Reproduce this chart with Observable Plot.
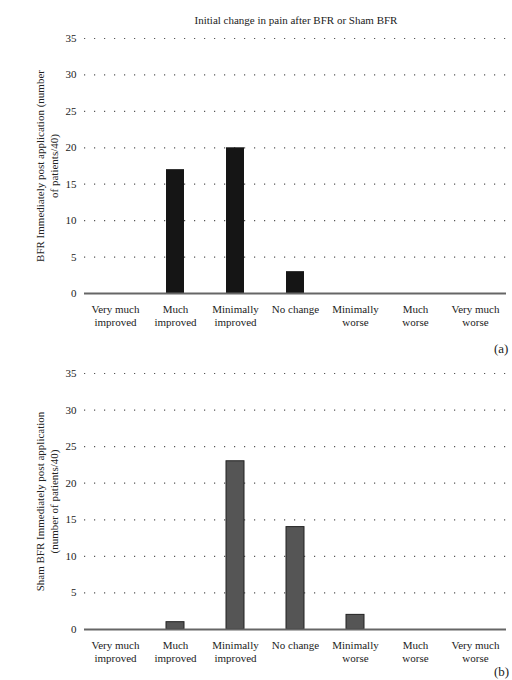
<!DOCTYPE html>
<html>
<head>
<meta charset="utf-8">
<script src="https://cdn.jsdelivr.net/npm/d3@7"></script>
<script src="https://cdn.jsdelivr.net/npm/@observablehq/plot@0.6"></script>
<style>
  body { margin: 0; background: #fff; }
  #wrap { position: relative; width: 512px; height: 680px; overflow: hidden; font-family: "Liberation Serif", "DejaVu Serif", serif; }
  #title { height: 30px; box-sizing: border-box; padding-top: 12.5px; padding-left: 80px; line-height: 14px; font-size: 11px; text-align: center; color: #222; }
  .panel { position: absolute; font-size: 13px; line-height: 14px; color: #222; }
  svg { display: block; }
</style>
</head>
<body>
<div id="wrap">
  <div id="title">Initial change in pain after BFR or Sham BFR</div>
  <div id="c1"></div>
  <div id="c2"></div>
  <div class="panel" style="left:494px; top:342px;">(a)</div>
  <div class="panel" style="left:494px; top:665px;">(b)</div>
</div>
<script>
const categories = ["Very much improved", "Much improved", "Minimally improved", "No change", "Minimally worse", "Much worse", "Very much worse"];
const tickLabels = ["Very much\nimproved", "Much\nimproved", "Minimally\nimproved", "No change", "Minimally\nworse", "Much\nworse", "Very much\nworse"];
const bfrValues = [0, 17, 20, 3, 0, 0, 0];
const shamValues = [0, 1, 23, 14, 2, 0, 0];
const yTicks = [0, 5, 10, 15, 20, 25, 30, 35];
const gridTicks = [5, 10, 15, 20, 25, 30, 35];
const yLabelTop = "BFR Immediately post application (number\nof patients/40)";
const yLabelBottom = "Sham BFR Immediately post application\n(number of patients/40)";

function makeChart(values, ylabel, height, mt, mb, fill, stroke) {
  const data = categories.map((c, i) => ({category: c, value: values[i]}));
  return Plot.plot({
    width: 512,
    height,
    marginLeft: 84,
    marginRight: 6,
    marginTop: mt,
    marginBottom: mb,
    style: {fontFamily: "'Liberation Serif', 'DejaVu Serif', serif", fontSize: "11px", color: "#222", background: "#fff"},
    x: {domain: categories, paddingInner: 0.7, paddingOuter: 0.35, axis: null},
    y: {domain: [0, 35], axis: null},
    marks: [
      Plot.gridY(gridTicks, {stroke: "#555", strokeOpacity: 1, strokeWidth: 1.2, strokeDasharray: "1.2,8.8"}),
      Plot.barY(data, {x: "category", y: "value", fill, stroke, strokeWidth: stroke ? 1 : 0}),
      Plot.ruleY([0], {stroke: "#666", strokeWidth: 2}),
      Plot.axisY(yTicks, {tickSize: 0, tickPadding: 8, label: null, fill: "#222"}),
      Plot.axisX(categories, {tickSize: 0, tickPadding: 10, label: null, fill: "#222", lineHeight: 1.2,
        tickFormat: d => tickLabels[categories.indexOf(d)]}),
      Plot.text([ylabel], {frameAnchor: "left", dx: -38, rotate: -90, text: d => d, textAnchor: "middle", lineAnchor: "middle", lineHeight: 1.25, fill: "#222"})
    ]
  });
}

document.getElementById("c1").appendChild(makeChart(bfrValues, yLabelTop, 310, 8, 47, "#151515", null));
document.getElementById("c2").appendChild(makeChart(shamValues, yLabelBottom, 340, 33, 51, "#555", "#222"));
</script>
</body>
</html>
